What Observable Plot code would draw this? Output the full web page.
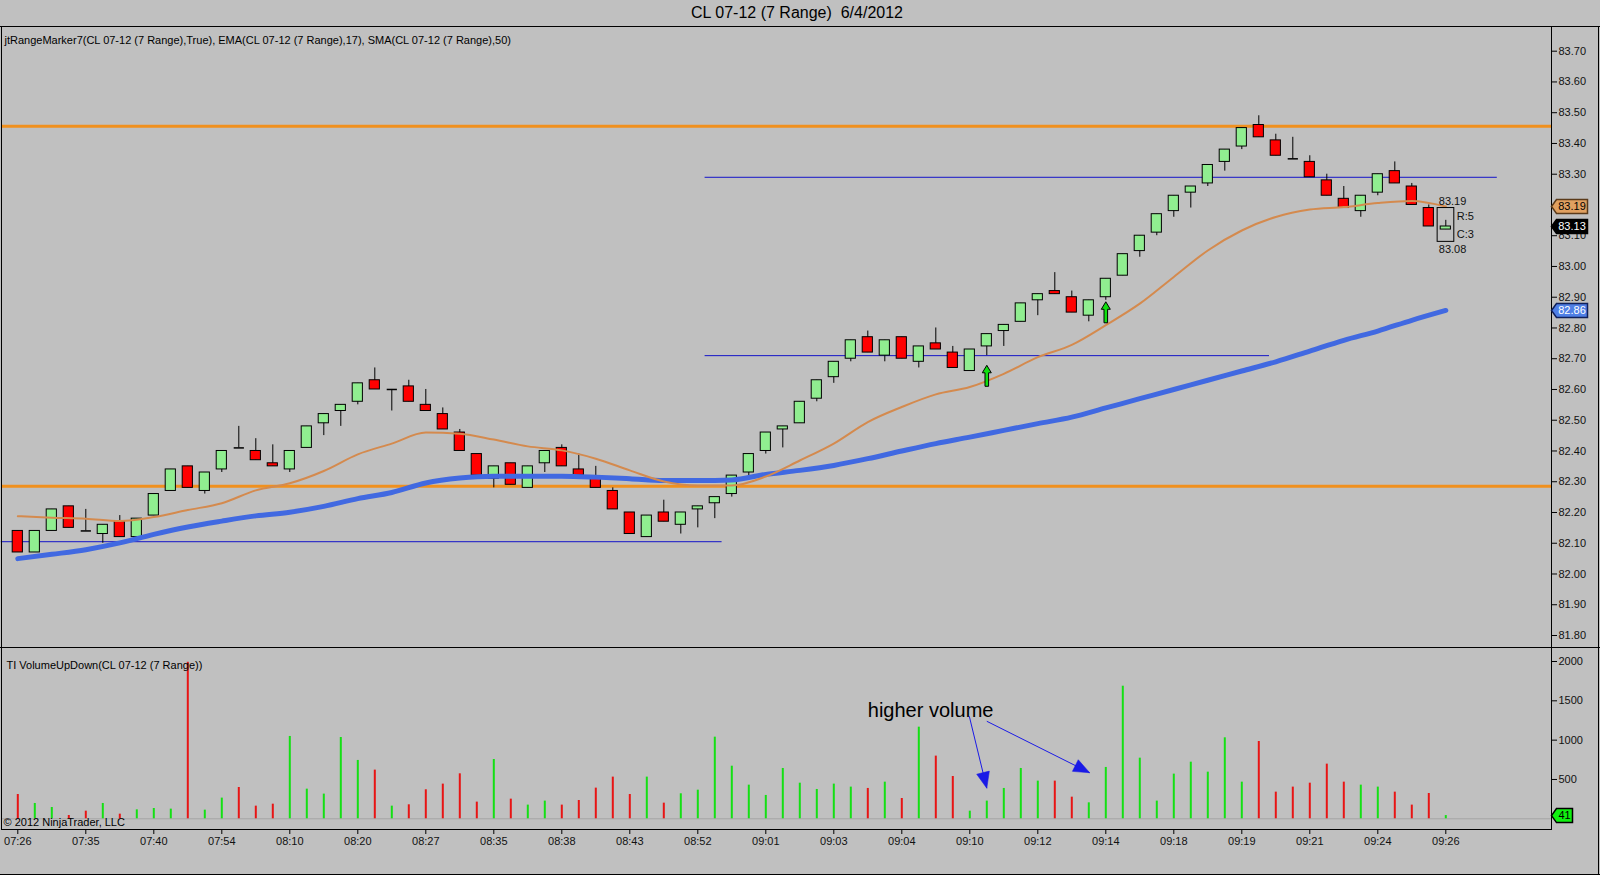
<!DOCTYPE html>
<html>
<head>
<meta charset="utf-8">
<script src="https://cdn.jsdelivr.net/npm/d3@7"></script>
<script src="https://cdn.jsdelivr.net/npm/@observablehq/plot@0.6"></script>
<style>
  html, body { margin: 0; padding: 0; background: #c0c0c0; }
  #wrap { position: relative; width: 1600px; height: 875px; background: #c0c0c0; overflow: hidden;
          font-family: "Liberation Sans", Arial, sans-serif; color: #000; }
  #title { position: absolute; top: 4px; left: 0; width: 1594px; text-align: center; font-size: 16px; line-height: 18px; }
  .hl { position: absolute; left: 0; width: 1600px; height: 1px; background: #000; }
  .vl { position: absolute; top: 26px; width: 1px; height: 849px; background: #000; }
  #price, #vol { position: absolute; left: 0; }
  #price { top: 25px; }
  #vol { top: 646px; }
  svg { overflow: visible; }
</style>
</head>
<body>
<div id="wrap">
  <div id="title">CL 07-12 (7 Range)&nbsp; 6/4/2012</div>
  <div class="hl" style="top:26px"></div>
  <div class="hl" style="top:647px"></div>
  <div class="hl" style="top:874px"></div>
  <div class="vl" style="left:1598px"></div>
  <div id="price"></div>
  <div id="vol"></div>
</div>
<script>
// ---------------- data ----------------
const open  = [82.14,82.07,82.14,82.22,82.14,82.13,82.17,82.12,82.19,82.27, 82.35,82.27,82.34,82.41,82.40,82.36,82.34,82.41,82.49,82.53, 82.56,82.63,82.60,82.61,82.55,82.52,82.46,82.39,82.31,82.36, 82.28,82.36,82.41,82.34,82.31,82.27,82.20,82.12,82.20,82.16, 82.21,82.23,82.26,82.33,82.40,82.47,82.49,82.57,82.64,82.70, 82.77,82.71,82.77,82.69,82.75,82.72,82.66,82.74,82.79,82.82, 82.89,82.92,82.90,82.84,82.90,82.97,83.05,83.11,83.18,83.24, 83.27,83.34,83.39,83.46,83.41,83.35,83.34,83.28,83.22,83.18, 83.24,83.31,83.26,83.19,83.12];
const high  = [82.14,82.14,82.21,82.22,82.21,82.16,82.19,82.18,82.26,82.34, 82.35,82.33,82.40,82.48,82.44,82.42,82.40,82.48,82.52,82.55, 82.62,82.67,82.60,82.63,82.60,82.54,82.47,82.39,82.35,82.36, 82.35,82.40,82.42,82.39,82.35,82.28,82.20,82.19,82.24,82.20, 82.22,82.25,82.32,82.39,82.46,82.48,82.56,82.63,82.69,82.76, 82.79,82.76,82.77,82.74,82.80,82.74,82.73,82.78,82.81,82.88, 82.91,82.98,82.92,82.89,82.96,83.04,83.10,83.17,83.23,83.26, 83.33,83.38,83.45,83.49,83.43,83.42,83.36,83.30,83.26,83.23, 83.30,83.34,83.27,83.20,83.15];
const low   = [82.07,82.07,82.14,82.15,82.14,82.10,82.12,82.12,82.19,82.27, 82.28,82.26,82.33,82.41,82.37,82.35,82.33,82.41,82.45,82.48, 82.55,82.60,82.53,82.56,82.53,82.47,82.40,82.32,82.28,82.29, 82.28,82.33,82.35,82.32,82.28,82.21,82.13,82.12,82.17,82.13, 82.15,82.18,82.25,82.32,82.39,82.41,82.49,82.56,82.62,82.69, 82.72,82.69,82.70,82.67,82.73,82.67,82.66,82.71,82.74,82.82, 82.84,82.91,82.85,82.82,82.89,82.97,83.03,83.10,83.16,83.19, 83.26,83.31,83.38,83.42,83.36,83.35,83.29,83.23,83.19,83.16, 83.23,83.27,83.20,83.13,83.12];
const close = [82.07,82.14,82.21,82.15,82.14,82.16,82.12,82.18,82.26,82.34, 82.28,82.33,82.40,82.41,82.37,82.35,82.40,82.48,82.52,82.55, 82.62,82.60,82.60,82.56,82.53,82.47,82.40,82.32,82.35,82.29, 82.35,82.40,82.35,82.32,82.28,82.21,82.13,82.19,82.17,82.20, 82.22,82.25,82.32,82.39,82.46,82.48,82.56,82.63,82.69,82.76, 82.72,82.76,82.70,82.74,82.73,82.67,82.73,82.78,82.81,82.88, 82.91,82.91,82.85,82.89,82.96,83.04,83.10,83.17,83.23,83.26, 83.33,83.38,83.45,83.42,83.36,83.35,83.29,83.23,83.19,83.23, 83.30,83.27,83.20,83.13,83.13];

const volume = [309,195,144,42,97,195,59,114,131,123, 1990,110,263,398,161,186,1047,377,314,1034, 742,619,161,178,369,441,572,212,754,250, 174,225,174,233,390,530,309,530,199,318, 364,1038,669,428,297,640,453,373,441,403, 386,466,258,1165,797,538,97,225,386,640, 479,479,275,203,653,1686,771,225,568,720, 593,1030,466,983,339,403,453,695,466,428, 403,339,174,322,41];
// U = up (green) bar, D = down (red) bar, ten bars per group
const volumeDir = ["DUUDDUDUUU","DUUDDDUUUU","UDUDDDDDUD","UUDDDDDUDU","UUUUUUUUUU",
                   "DUDUDDUUUU","UDDUUUUUUU","UUUDDDDDDU","UDDDU"].join("").split("");

const emaBar = [1,3,5,7,9,11,13,15,17,19,21,23,25,27,29,31,33,35,37,39,41,43,45,47,49,51,53,55,57,59,61,63,65,67,69,71,73,75,77,79,81,83,85];
const ema17  = [82.188,82.183,82.180,82.172,82.185,82.208,82.230,82.272,82.295,82.335,82.389,82.424,82.460,82.456,82.437,82.415,82.402,82.375,82.337,82.301,82.288,82.288,82.317,82.369,82.424,82.494,82.543,82.584,82.608,82.651,82.705,82.745,82.809,82.879,82.966,83.052,83.117,83.161,83.185,83.193,83.206,83.213,83.195];
const sma50  = [82.050,82.064,82.079,82.101,82.129,82.153,82.172,82.189,82.201,82.220,82.245,82.265,82.296,82.312,82.318,82.318,82.318,82.315,82.310,82.304,82.304,82.306,82.324,82.337,82.353,82.375,82.400,82.424,82.445,82.467,82.489,82.510,82.540,82.570,82.600,82.630,82.660,82.690,82.725,82.760,82.790,82.825,82.857];

const orangeLevels = [83.456, 82.285];
const blueLevel = [82.105, 82.71, 83.29];
const blueStart = [0, 41.4, 41.4];
const blueEnd   = [42.4, 74.6, 88.0];

const signalBar  = [58, 65];
const signalBase = [82.611, 82.820];
const signalTip  = [82.678, 82.882];

const rangeBoxHigh = 83.19, rangeBoxLow = 83.08;
const rangeInfo = ["R:5", "C:3"];

const priceTicks = [81.8,81.9,82.0,82.1,82.2,82.3,82.4,82.5,82.6,82.7,82.8,82.9,83.0,83.1,83.2,83.3,83.4,83.5,83.6,83.7];
const volumeTicks = [500,1000,1500,2000];
const timeTickBar = [1,5,9,13,17,21,25,29,33,37,41,45,49,53,57,61,65,69,73,77,81,85];
const timeLabels = ["07:26","07:35","07:40","07:54","08:10","08:20","08:27","08:35","08:38","08:43","08:52","09:01","09:03","09:04","09:10","09:12","09:14","09:18","09:19","09:21","09:24","09:26"];

const priceTitle = "jtRangeMarker7(CL 07-12 (7 Range),True), EMA(CL 07-12 (7 Range),17), SMA(CL 07-12 (7 Range),50)";
const volumeTitle = "TI VolumeUpDown(CL 07-12 (7 Range))";
const copyright = "\u00a9 2012 NinjaTrader, LLC";
const noteText = "higher volume";
const noteBar = 51.0, noteVol = 1376;
const noteArrowX1 = [56.97, 58.0], noteArrowY1 = [1304, 1240];
const noteArrowX2 = [58.0, 64.05], noteArrowY2 = [389, 586];

// ---------------- layout ----------------
const FONT = '"Liberation Sans", Arial, sans-serif';
const xDom = [1, 85], xRng = [17.3, 1445.3];
const W = 1600, ML = 1, MR = 49;
const xEdge = d3.scaleLinear().domain(xRng).range(xDom)(W - MR); // axis line position in bar units

const GREEN = "#90ee90", RED = "#ff0000";
const candles = open.map((o, k) => ({i: k + 1, open: o, high: high[k], low: low[k], close: close[k]}));
const bodies = candles.filter(d => d.open !== d.close);
const dojis = candles.filter(d => d.open === d.close);
const ema = emaBar.map((b, k) => ({i: b, v: ema17[k]}));
const sma = emaBar.map((b, k) => ({i: b, v: sma50[k]}));
const blues = blueLevel.map((l, k) => ({level: l, start: blueStart[k], end: blueEnd[k]}));
const signals = signalBar.map((b, k) => ({i: b, y: (signalBase[k] + signalTip[k]) / 2}));

// custom symbols
const upArrow = {draw(c) { c.moveTo(0,-10.5); c.lineTo(4.5,-3); c.lineTo(1.8,-3); c.lineTo(1.8,10.5); c.lineTo(-1.8,10.5); c.lineTo(-1.8,-3); c.lineTo(-4.5,-3); c.closePath(); }};
const tag = (w) => ({draw(c) { c.moveTo(0,0); c.lineTo(5,-7); c.lineTo(5+w,-7); c.lineTo(5+w,7); c.lineTo(5,7); c.closePath(); }});
const head = {draw(c) { c.moveTo(0,0); c.lineTo(6.5,16); c.lineTo(-6.5,16); c.closePath(); }};

const last = candles[candles.length - 1];

const price = Plot.plot({
  width: W, height: 622, marginTop: 1, marginBottom: 0, marginLeft: ML, marginRight: MR,
  x: {domain: xDom, range: xRng, axis: null},
  y: {domain: [81.80, 83.70], range: [610, 25.7], axis: null},
  style: {background: "transparent", fontFamily: FONT, fontSize: "11px", color: "#000", overflow: "visible"},
  marks: [
    Plot.ruleY(orangeLevels, {stroke: "#f0901e", strokeWidth: 3}),
    Plot.link(blues, {x1: "start", x2: "end", y1: "level", y2: "level", stroke: "#1414c8", strokeWidth: 1}),
    Plot.ruleX(candles, {x: "i", y1: "low", y2: "high", stroke: "#000", strokeWidth: 1}),
    Plot.rect(bodies, {x1: d => d.i - 0.3, x2: d => d.i + 0.3, y1: "open", y2: "close",
      fill: d => d.close > d.open ? GREEN : RED, stroke: "#000", strokeWidth: 1}),
    Plot.link(dojis, {x1: d => d.i - 0.3, x2: d => d.i + 0.3, y1: "open", y2: "open", stroke: "#000", strokeWidth: 1.5}),
    Plot.line(sma, {x: "i", y: "v", stroke: "#4169e1", strokeWidth: 5, curve: "monotone-x"}),
    Plot.line(ema, {x: "i", y: "v", stroke: "#d48a4e", strokeWidth: 2, curve: "monotone-x"}),
    Plot.dot(signals, {x: "i", y: "y", symbol: upArrow, fill: "#10e010", stroke: "#000", strokeWidth: 1}),
    // range marker box on current bar
    Plot.rect([last], {x1: d => d.i - 0.48, x2: d => d.i + 0.5, y1: () => rangeBoxLow, y2: () => rangeBoxHigh, fill: "none", stroke: "#000", strokeWidth: 1}),
    Plot.text([rangeBoxHigh], {x: () => last.i, y: d => d, text: d => d.toFixed(2), dx: -7, dy: -7, textAnchor: "start", fontSize: 11, fill: "#111"}),
    Plot.text([rangeBoxLow], {x: () => last.i, y: d => d, text: d => d.toFixed(2), dx: -7, dy: 8, textAnchor: "start", fontSize: 11, fill: "#111"}),
    Plot.text([rangeInfo[0]], {x: () => last.i, y: () => rangeBoxHigh, text: d => d, dx: 11, dy: 8, textAnchor: "start", fontSize: 11, fill: "#111"}),
    Plot.text([rangeInfo[1]], {x: () => last.i, y: () => rangeBoxLow, text: d => d, dx: 11, dy: -7, textAnchor: "start", fontSize: 11, fill: "#111"}),
    Plot.frame({stroke: "#000"}),
    Plot.axisY(priceTicks, {anchor: "right", tickSize: 5, tickPadding: 2, tickFormat: d => d.toFixed(2), fontSize: 11, stroke: "#000", fill: "#111"}),
    // value tags on the axis
    Plot.dot([ema17[ema17.length - 1]], {x: () => xEdge, y: d => d, symbol: tag(31), fill: "#e0a060", stroke: "#5a3a1a"}),
    Plot.text([ema17[ema17.length - 1]], {x: () => xEdge, y: d => d, text: d => d.toFixed(2), dx: 20.5, fontSize: 11, fill: "#000"}),
    Plot.dot([last.close], {x: () => xEdge, y: d => d, symbol: tag(31), fill: "#000", stroke: "#000"}),
    Plot.text([last.close], {x: () => xEdge, y: d => d, text: d => d.toFixed(2), dx: 20.5, fontSize: 11, fill: "#fff"}),
    Plot.dot([sma50[sma50.length - 1]], {x: () => xEdge, y: d => d, symbol: tag(31), fill: "#4f7fe6", stroke: "#10205a"}),
    Plot.text([sma50[sma50.length - 1]], {x: () => xEdge, y: d => d, text: d => d.toFixed(2), dx: 20.5, fontSize: 11, fill: "#fff"}),
    Plot.text([priceTitle], {frameAnchor: "top-left", dx: 3, dy: 10, textAnchor: "start", fontSize: 11, fill: "#000"})
  ]
});
document.getElementById("price").append(price);

// volume panel
const volRows = volume.map((v, k) => ({i: k + 1, v, up: volumeDir[k] === "U"}));
const vyRange = [172.3, 15];
const kx = (xRng[1] - xRng[0]) / (xDom[1] - xDom[0]);
const ky = (vyRange[0] - vyRange[1]) / 2000;
const notes = noteArrowX1.map((x1, k) => {
  const dx = (noteArrowX2[k] - x1) * kx, dy = (noteArrowY1[k] - noteArrowY2[k]) * ky;
  return {x1, y1: noteArrowY1[k], x2: noteArrowX2[k], y2: noteArrowY2[k], a: Math.atan2(dx, -dy) * 180 / Math.PI};
});
const tickLabel = new Map(timeTickBar.map((b, k) => [b, timeLabels[k]]));

const vol = Plot.plot({
  width: W, height: 229, marginTop: 1, marginBottom: 46, marginLeft: ML, marginRight: MR,
  x: {domain: xDom, range: xRng, axis: null},
  y: {domain: [0, 2000], range: vyRange, axis: null},
  style: {background: "transparent", fontFamily: FONT, fontSize: "11px", color: "#000", overflow: "visible"},
  marks: [
    Plot.ruleY([0], {stroke: "#a4a4a4", strokeWidth: 1}),
    Plot.ruleX(volRows, {x: "i", y1: 0, y2: "v", stroke: d => d.up ? "#14e014" : "#e81414", strokeWidth: 2}),
    Plot.frame({stroke: "#000"}),
    Plot.axisY(volumeTicks, {anchor: "right", tickSize: 5, tickPadding: 2, tickFormat: d => String(d), fontSize: 11, stroke: "#000", fill: "#111"}),
    Plot.axisX(timeTickBar, {anchor: "bottom", tickSize: 5, tickPadding: 3, tickFormat: d => tickLabel.get(d), fontSize: 11, stroke: "#000", fill: "#111"}),
    Plot.dot([volume[volume.length - 1]], {x: () => xEdge, y: d => d, symbol: tag(16), fill: "#10f010", stroke: "#000"}),
    Plot.text([volume[volume.length - 1]], {x: () => xEdge, y: d => d, text: d => String(d), dx: 13, fontSize: 11, fill: "#000"}),
    Plot.link(notes, {x1: "x1", y1: "y1", x2: "x2", y2: "y2", stroke: "#1a1ae6", strokeWidth: 1}),
    Plot.dot(notes, {x: "x2", y: "y2", symbol: head, rotate: "a", fill: "#1a1ae6", stroke: "#1a1ae6", strokeWidth: 0.5}),
    Plot.text([noteText], {x: () => noteBar, y: () => noteVol, text: d => d, textAnchor: "start", fontSize: 20, fill: "#000"}),
    Plot.text([volumeTitle], {frameAnchor: "top-left", dx: 5, dy: 14, textAnchor: "start", fontSize: 11, fill: "#000"}),
    Plot.text([copyright], {frameAnchor: "bottom-left", dx: 2, dy: -4, textAnchor: "start", fontSize: 11, fill: "#000"})
  ]
});
document.getElementById("vol").append(vol);
</script>
</body>
</html>
